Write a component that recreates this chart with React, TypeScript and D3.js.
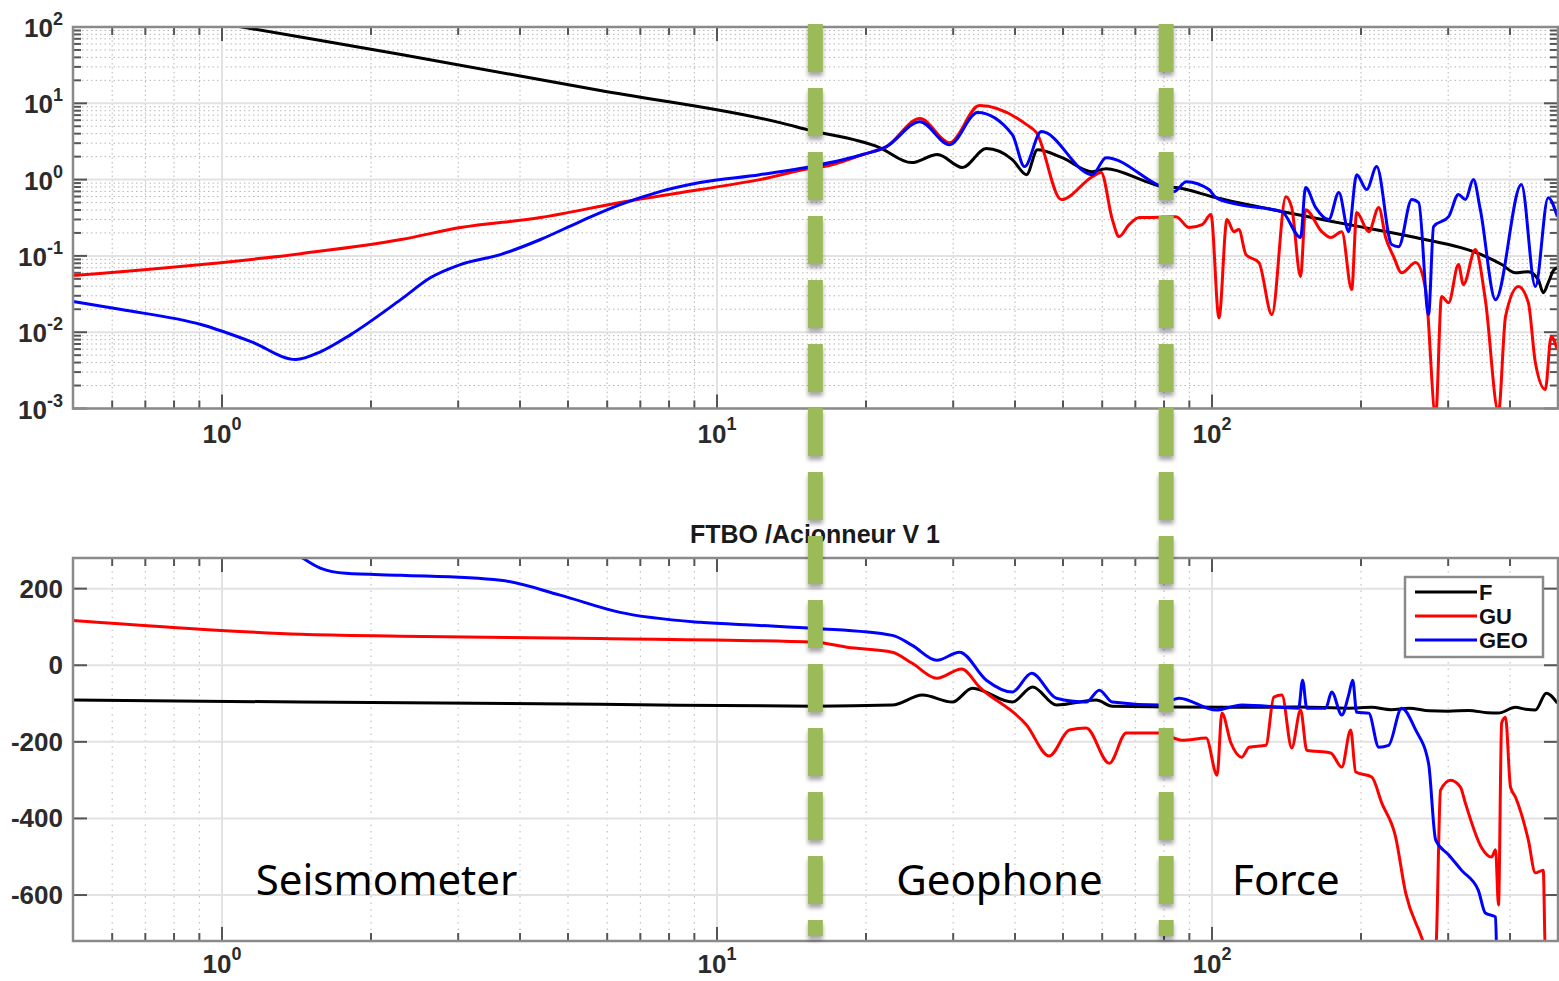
import React from 'react';
import * as d3 from 'd3';

// ---------- DATA (frequency in Hz, value) ----------
const title = 'FTBO /Acionneur V 1';
const seriesNames = ['F', 'GU', 'GEO'];
const seriesColors = ['#000000', '#ff0000', '#0000ff'];

// magnitude (top panel)
const magF: [number, number][] = [
  [0.5, 248], [1.09, 101], [2.3, 43.5], [5.81, 14.7], [13.4, 5.58], [15.2, 4.52],
  [21.3, 2.63], [24.7, 1.67], [27.9, 2.13], [31.3, 1.44], [35.0, 2.55], [39.5, 1.83],
  [42.2, 1.16], [44.4, 2.47], [49.8, 1.94], [57.3, 1.27], [61.1, 1.39], [73.6, 0.94],
  [79.3, 0.81], [84.6, 0.786], [101.9, 0.58], [138.4, 0.381], [188.8, 0.257],
  [257.9, 0.174], [350, 0.104], [385, 0.077], [410, 0.06], [435, 0.062], [456, 0.049],
  [467, 0.033], [478, 0.045], [490, 0.065], [498.5, 0.07],
];
const magGU: [number, number][] = [
  [0.5, 0.0552], [1.443, 0.107], [2.3, 0.164], [3.03, 0.235], [4.4, 0.318], [6.37, 0.5],
  [9.24, 0.74], [12.2, 1.0], [15.8, 1.44], [16.4, 1.48], [19.7, 2.13], [22.0, 2.71],
  [25.7, 6.3], [29.5, 3.05], [33.9, 9.33], [42.2, 5.26], [44.2, 4.13], [49.6, 0.547],
  [57.3, 1.09], [59.7, 1.24], [62.9, 0.299], [64.9, 0.179], [68.0, 0.257], [71.3, 0.318],
  [74.6, 0.318], [84.6, 0.327], [89.9, 0.235], [95.5, 0.257], [99.5, 0.348], [103.3, 0.0155],
  [107.2, 0.299], [110.7, 0.208], [113.3, 0.221], [117.1, 0.104], [124.4, 0.0817],
  [132.1, 0.017], [141.0, 0.598], [144.9, 0.43], [151.0, 0.0535], [154.5, 0.404],
  [166.6, 0.208], [173.7, 0.174], [182.9, 0.208], [191.5, 0.0362], [196.0, 0.37],
  [207.3, 0.208], [217.2, 0.43], [224.3, 0.174], [232.7, 0.098], [241.6, 0.06],
  [257.9, 0.0817], [270.2, 0.0362], [283.0, 0.0008], [290.9, 0.0293], [300.6, 0.0244],
  [314.7, 0.0769], [322.0, 0.042], [340.4, 0.121], [356.6, 0.0267], [379.1, 0.0009],
  [391.7, 0.016], [415.9, 0.0396], [435.5, 0.0244], [450, 0.004], [471.3, 0.00177],
  [484.3, 0.00875], [498.5, 0.0059],
];
const magGEO: [number, number][] = [
  [0.5, 0.0252], [0.626, 0.0198], [0.907, 0.0126], [1.144, 0.00753], [1.41, 0.00438],
  [1.584, 0.00557], [1.82, 0.0093], [2.296, 0.0267], [2.64, 0.052], [3.03, 0.0769],
  [3.65, 0.104], [4.4, 0.164], [5.29, 0.282], [6.37, 0.47], [7.67, 0.696], [9.24, 0.914],
  [12.2, 1.16], [15.8, 1.52], [19.7, 2.13], [22.0, 2.71], [25.7, 5.75], [29.5, 2.87],
  [33.6, 7.55], [39.5, 3.89], [41.8, 1.48], [45.2, 4.26], [57.3, 1.16], [61.1, 1.94],
  [78.2, 0.834], [83.8, 0.696], [88.7, 0.94], [98.6, 0.74], [101.9, 0.58], [113.3, 0.47],
  [138.4, 0.381], [151.0, 0.174], [154.5, 0.786], [162.0, 0.43], [172.1, 0.299],
  [180.4, 0.676], [188.8, 0.208], [196.0, 1.16], [205.3, 0.74], [215.1, 1.48],
  [230.6, 0.141], [238.3, 0.132], [253.2, 0.547], [261.6, 0.5], [273.8, 0.017],
  [280.3, 0.242], [300.6, 0.327], [314.7, 0.636], [325, 0.547], [337.3, 1.0],
  [348.4, 0.404], [373.9, 0.0267], [421.7, 0.86], [450, 0.0396], [477.6, 0.58],
  [498.5, 0.327],
];

// phase in degrees (bottom panel)
const phF: [number, number][] = [
  [0.5, -91], [1.443, -96], [5.81, -102], [15.8, -107], [22.6, -104], [26.0, -78],
  [29.9, -96], [32.8, -60], [39.5, -96], [43.4, -57], [48.5, -104], [58.3, -91],
  [62.9, -107], [108.2, -110], [150, -109], [188.8, -112], [210, -110], [230, -116],
  [250, -112], [275, -119], [300, -120], [330, -118], [360, -124], [379, -125],
  [410, -110], [430, -115], [450, -117], [473.5, -73], [498.5, -99],
];
const phGU: [number, number][] = [
  [0.5, 117], [0.995, 91], [1.443, 81], [2.3, 76], [5.81, 70], [15.8, 60], [18.3, 47],
  [22.6, 34], [24.8, 5], [27.8, -34], [31.2, -10], [33.9, -57], [42.2, -156], [46.9, -237],
  [51.5, -169], [55.7, -164], [62.0, -256], [67.1, -177], [78.2, -177], [87.0, -196],
  [97.3, -190], [102.4, -287], [104.7, -125], [109.2, -203], [114.9, -240], [118.8, -214],
  [128.5, -209], [133.3, -83], [138.4, -78], [144.9, -216], [151.0, -117], [155.4, -222],
  [173.7, -229], [182.9, -266], [190.6, -169], [195.1, -279], [210.2, -292], [220.3, -360],
  [234.9, -448], [246.2, -595], [261.6, -691], [273.8, -743], [283, -743], [289.5, -326],
  [303.4, -300], [317.6, -318], [325, -360], [350, -475], [367, -501], [374, -482],
  [379.1, -626], [384.7, -151], [391.7, -136], [400.9, -318], [410.2, -344], [435.5, -456],
  [450, -542], [466.9, -535], [471.3, -743], [498.5, -770],
];
const phGEO: [number, number][] = [
  [0.5, 420], [0.907, 360], [1.443, 282], [1.584, 253], [1.778, 240], [2.3, 235],
  [3.65, 222], [4.82, 183], [6.37, 138], [9.24, 112], [12.2, 104], [15.8, 96], [22.6, 78],
  [24.8, 52], [27.8, 13], [30.9, 34], [35.0, -39], [39.5, -70], [43.2, -21], [48.5, -86],
  [55.7, -96], [59.2, -65], [62.9, -96], [78.2, -104], [85.8, -86], [101.9, -117],
  [114.9, -104], [149.6, -112], [152.4, -39], [155.4, -112], [169.7, -112], [174.5, -70],
  [182.9, -130], [188.8, -78], [192.4, -39], [196, -123], [207.3, -125], [217.2, -214],
  [227.4, -209], [241.6, -112], [257.9, -169], [273.8, -256], [283, -456], [300.6, -495],
  [319, -535], [345, -587], [356.6, -647], [373.9, -657], [375.6, -743],
];

const xDecades = [1, 10, 100];
const magExps = [-3, -2, -1, 0, 1, 2];
const phaseTicks = [200, 0, -200, -400, -600];
const regionLabels = [
  { label: 'Seismometer', f: 2.15 },
  { label: 'Geophone', f: 37.2 },
  { label: 'Force', f: 141 },
];
const boundaryFreqs = [15.8, 80.8];

// ---------- LAYOUT ----------
const W = 1559;
const H = 981;
const L = 73;
const R = 1558;
const topT = 27, topB = 408.5;
const botT = 558, botB = 941;

const tickFont = '"Liberation Sans", Arial, Helvetica, sans-serif';

export default function App() {
  const x = d3.scaleLog().domain([0.5, 500]).range([L, R]);
  const yMag = d3.scaleLog().domain([1e-3, 1e2]).range([topB, topT]);
  const yPh = d3.scaleLinear().domain([-720, 280]).range([botB, botT]);

  const minorX: number[] = [];
  [0.1, 1, 10, 100].forEach((d) => {
    for (let m = 2; m <= 9; m++) {
      const v = d * m;
      if (v > 0.5 && v < 500) minorX.push(v);
    }
  });
  const minorY: number[] = [];
  [-3, -2, -1, 0, 1].forEach((e) => {
    for (let m = 2; m <= 9; m++) minorY.push(Math.pow(10, e) * m);
  });

  const magLine = d3.line<[number, number]>()
    .x((d) => x(d[0])).y((d) => yMag(d[1])).curve(d3.curveMonotoneX);
  const phLine = d3.line<[number, number]>()
    .x((d) => x(d[0])).y((d) => yPh(d[1])).curve(d3.curveMonotoneX);

  const magSeries = [magF, magGU, magGEO];
  const phSeries = [phF, phGU, phGEO];

  const majorGrid = '#e2e2e2';
  const minorGrid = '#b5b5b5';
  const axisCol = '#8a8a8a';
  const tickCol = '#555';
  const labelCol = '#2b2b2b';

  const xTicksFor = (yTop: number, yBot: number, key: string) => (
    <g key={key}>
      {minorX.map((v, i) => (
        <g key={'mx' + i}>
          <line x1={x(v)} x2={x(v)} y1={yBot} y2={yBot - 8} stroke={tickCol} strokeWidth={2} />
          <line x1={x(v)} x2={x(v)} y1={yTop} y2={yTop + 8} stroke={tickCol} strokeWidth={2} />
        </g>
      ))}
      {xDecades.map((v, i) => (
        <g key={'Mx' + i}>
          <line x1={x(v)} x2={x(v)} y1={yBot} y2={yBot - 14} stroke={tickCol} strokeWidth={2} />
          <line x1={x(v)} x2={x(v)} y1={yTop} y2={yTop + 14} stroke={tickCol} strokeWidth={2} />
        </g>
      ))}
    </g>
  );

  const xLabels = (baseline: number, key: string) => (
    <g key={key}>
      {xDecades.map((v, i) => (
        <text key={i} x={x(v)} y={baseline} textAnchor="middle" fontFamily={tickFont}
          fontWeight="bold" fontSize={26} fill={labelCol}>
          10<tspan dy={-13} fontSize={18}>{Math.round(Math.log10(v))}</tspan>
        </text>
      ))}
    </g>
  );

  return (
    <div style={{ position: 'absolute', left: 0, top: 0 }}>
      <svg width={W} height={H} viewBox={`0 0 ${W} ${H}`} style={{ display: 'block', background: '#fff' }}>
        <defs>
          <clipPath id="clipTop"><rect x={L} y={topT} width={R - L} height={topB - topT} /></clipPath>
          <clipPath id="clipBot"><rect x={L} y={botT} width={R - L} height={botB - botT} /></clipPath>
          <filter id="shadow" x="-50%" y="-50%" width="200%" height="200%">
            <feDropShadow dx={0} dy={4} stdDeviation={2} floodColor="#000" floodOpacity={0.35} />
          </filter>
        </defs>

        {/* ---------- TOP PANEL ---------- */}
        <g>
          {minorY.map((v, i) => (
            <line key={'gy' + i} x1={L} x2={R} y1={yMag(v)} y2={yMag(v)} stroke={minorGrid}
              strokeWidth={1} strokeDasharray="1.5 3" />
          ))}
          {minorX.map((v, i) => (
            <line key={'gx' + i} x1={x(v)} x2={x(v)} y1={topT} y2={topB} stroke={minorGrid}
              strokeWidth={1} strokeDasharray="1.5 3" />
          ))}
          {magExps.map((e, i) => (
            <line key={'Gy' + i} x1={L} x2={R} y1={yMag(Math.pow(10, e))} y2={yMag(Math.pow(10, e))}
              stroke={majorGrid} strokeWidth={2} />
          ))}
          {xDecades.map((v, i) => (
            <line key={'Gx' + i} x1={x(v)} x2={x(v)} y1={topT} y2={topB} stroke={majorGrid} strokeWidth={2} />
          ))}
          {minorY.map((v, i) => (
            <g key={'ty' + i}>
              <line x1={L} x2={L + 8} y1={yMag(v)} y2={yMag(v)} stroke={tickCol} strokeWidth={2} />
              <line x1={R} x2={R - 8} y1={yMag(v)} y2={yMag(v)} stroke={tickCol} strokeWidth={2} />
            </g>
          ))}
          {magExps.map((e, i) => (
            <g key={'Ty' + i}>
              <line x1={L} x2={L + 14} y1={yMag(Math.pow(10, e))} y2={yMag(Math.pow(10, e))} stroke={tickCol} strokeWidth={2} />
              <line x1={R} x2={R - 14} y1={yMag(Math.pow(10, e))} y2={yMag(Math.pow(10, e))} stroke={tickCol} strokeWidth={2} />
            </g>
          ))}
          {xTicksFor(topT, topB, 'xtTop')}
          <g clipPath="url(#clipTop)">
            {magSeries.map((s, i) => (
              <path key={'m' + i} d={magLine(s) || ''} fill="none" stroke={seriesColors[i]}
                strokeWidth={3} strokeLinejoin="round" />
            ))}
          </g>
          <rect x={L} y={topT} width={R - L} height={topB - topT} fill="none" stroke={axisCol} strokeWidth={2.5} />
          {magExps.map((e, i) => (
            <text key={'ly' + i} x={63} y={yMag(Math.pow(10, e)) + 10} textAnchor="end" fontFamily={tickFont}
              fontWeight="bold" fontSize={26} fill={labelCol}>
              10<tspan dy={-12} fontSize={18}>{e}</tspan>
            </text>
          ))}
          {xLabels(443, 'xlTop')}
        </g>

        {/* ---------- BOTTOM PANEL ---------- */}
        <g>
          <text x={815} y={543} textAnchor="middle" fontFamily={tickFont} fontWeight="bold"
            fontSize={25} fill="#1a1a1a">{title}</text>
          {minorX.map((v, i) => (
            <line key={'bgx' + i} x1={x(v)} x2={x(v)} y1={botT} y2={botB} stroke={minorGrid}
              strokeWidth={1} strokeDasharray="1.5 5" />
          ))}
          {phaseTicks.map((v, i) => (
            <line key={'bGy' + i} x1={L} x2={R} y1={yPh(v)} y2={yPh(v)} stroke={majorGrid} strokeWidth={2} />
          ))}
          {xDecades.map((v, i) => (
            <line key={'bGx' + i} x1={x(v)} x2={x(v)} y1={botT} y2={botB} stroke={majorGrid} strokeWidth={2} />
          ))}
          {phaseTicks.map((v, i) => (
            <g key={'bty' + i}>
              <line x1={L} x2={L + 14} y1={yPh(v)} y2={yPh(v)} stroke={tickCol} strokeWidth={2} />
              <line x1={R} x2={R - 14} y1={yPh(v)} y2={yPh(v)} stroke={tickCol} strokeWidth={2} />
            </g>
          ))}
          {xTicksFor(botT, botB, 'xtBot')}
          <g clipPath="url(#clipBot)">
            {phSeries.map((s, i) => (
              <path key={'p' + i} d={phLine(s) || ''} fill="none" stroke={seriesColors[i]}
                strokeWidth={3} strokeLinejoin="round" />
            ))}
          </g>
          <rect x={L} y={botT} width={R - L} height={botB - botT} fill="none" stroke={axisCol} strokeWidth={2.5} />
          {phaseTicks.map((v, i) => (
            <text key={'bly' + i} x={63} y={yPh(v) + 9} textAnchor="end" fontFamily={tickFont}
              fontWeight="bold" fontSize={26} fill={labelCol}>{v}</text>
          ))}
          {xLabels(973, 'xlBot')}

          <g>
            <rect x={1405} y={577} width={138} height={80} fill="#fff" stroke={axisCol} strokeWidth={2.5} />
            {seriesNames.map((n, i) => (
              <g key={'lg' + i}>
                <line x1={1415} x2={1477} y1={592 + i * 24} y2={592 + i * 24} stroke={seriesColors[i]} strokeWidth={3} />
                <text x={1479} y={600 + i * 24} fontFamily={tickFont} fontWeight="bold" fontSize={22} fill="#111">{n}</text>
              </g>
            ))}
          </g>

          {regionLabels.map((r, i) => (
            <text key={'rl' + i} x={x(r.f)} y={895} textAnchor="middle"
              fontFamily='"Noto Sans", "Open Sans", sans-serif' fontSize={42} fill="#000">{r.label}</text>
          ))}
        </g>

        <g filter="url(#shadow)">
          {boundaryFreqs.map((f, i) => (
            <line key={'bd' + i} x1={x(f)} x2={x(f)} y1={24} y2={936} stroke="#9bbb59"
              strokeWidth={15} strokeDasharray="48 16" />
          ))}
        </g>
      </svg>
    </div>
  );
}
